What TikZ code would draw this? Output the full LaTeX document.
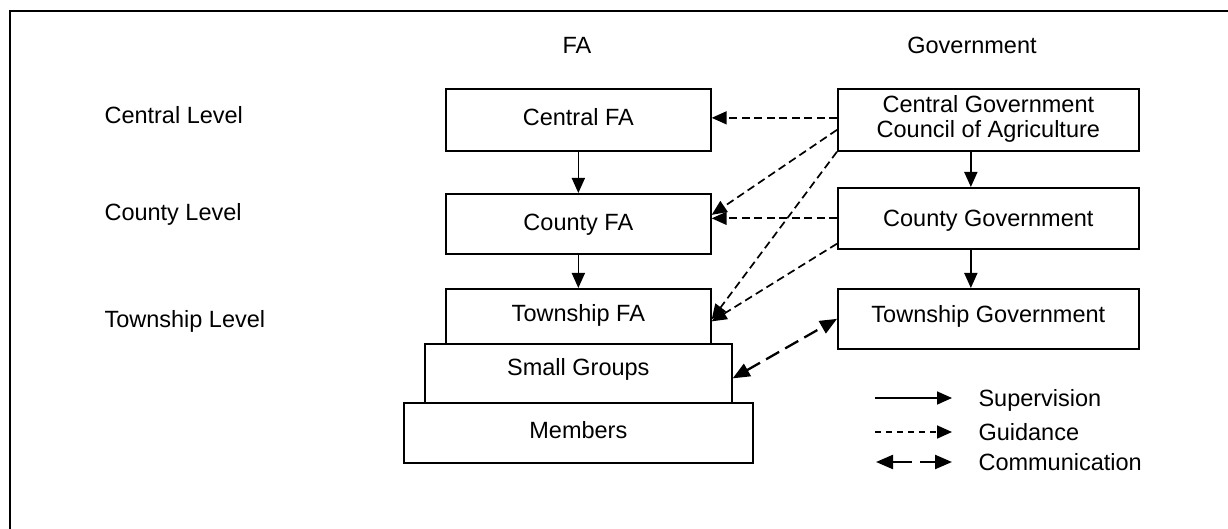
\documentclass[tikz,border=0pt]{standalone}
\usepackage{fontspec}
\setmainfont{Liberation Sans}
\usetikzlibrary{arrows.meta,calc}
\begin{document}
\begin{tikzpicture}[x=1pt,y=-1pt,
  font=\fontsize{23.5}{25}\selectfont,
  box/.style n args={3}{draw, line width=1.7pt, anchor=north west,
    inner ysep=0pt, inner xsep=0pt, minimum width=#1,
    text height=#2, text depth=#3, align=center},
  tip/.style={-{Triangle[length=15pt,width=13pt]}},
  sup/.style={line width=1.7pt, tip},
  guide/.style={line width=1.7pt, dash pattern=on 8pt off 4.5pt, tip},
  commtip/.style={line width=2.3pt, -{Triangle[length=17pt,width=14pt]}},
  comm/.style={line width=2.3pt, dash pattern=on 15pt off 7pt,
    {Triangle[length=17pt,width=14pt]}-{Triangle[length=17pt,width=14pt]}},
  lbl/.style={anchor=base west},
  head/.style={anchor=base}]
\useasboundingbox (0,0) rectangle (1228,529);

% outer frame (only left and top edges fall inside the page)
\draw[line width=2.5pt] (10,545) -- (10,11) -- (1245,11);

% column headings
\node[head] (hfa) at (577,54) {FA};
\node[head] (hgov) at (972,54) {Government};

% level labels
\node[lbl] (lvc)  at (101,124) {Central Level};
\node[lbl] (lvco) at (101,221) {County Level};
\node[lbl] (lvt)  at (101,327) {Township Level};

% farmers' association column
\node[box={265pt}{37pt}{25pt}] (cfa)  at (445,88)  {Central FA};
\node[box={265pt}{37pt}{23pt}] (cofa) at (445,193) {County FA};
\node[box={265pt}{33pt}{22pt}] (tfa)  at (445,288) {Township FA};
\node[box={307pt}{32pt}{27pt}] (sg)   at (424,343) {Small Groups};
\node[box={349pt}{36pt}{24pt}] (mem)  at (403,402) {Members};

% government column (the text height of a two-line box counts to its last baseline)
\node[box={301pt}{49pt}{13pt}] (cg)  at (837,88)  {Central Government\\Council of Agriculture};
\node[box={301pt}{39pt}{22pt}] (cog) at (837,187) {County Government};
\node[box={301pt}{34pt}{26pt}] (tg)  at (837,288) {Township Government};

% supervision
\draw[sup] (cfa.south) -- (cofa.north);
\draw[sup] (cofa.south) -- (tfa.north);
\draw[sup] ([xshift=-17.5pt]cg.south) -- ([xshift=-17.5pt]cog.north);
\draw[sup] ([xshift=-17.5pt]cog.south) -- ([xshift=-17.5pt]tg.north);

% guidance
\draw[guide] ([yshift=2pt]cg.west) -- ([yshift=2pt]cfa.east);
\draw[guide] ([yshift=-10pt]cg.west) -- ([yshift=9pt]cofa.east);
\draw[guide] (cg.south west) -- ([yshift=-3pt]tfa.east);
\draw[guide] (cog.west) -- (cog.west -| cofa.east);
\draw[guide] ([yshift=6pt]cog.south west) -- ([yshift=-5pt]tfa.east);

% communication
\draw[comm] ([yshift=-5pt]sg.east) -- (tg.west);

% legend
\coordinate (s1) at (875,398);
\coordinate (s2) at (952,398);
\draw[sup] (s1) -- (s2);
\node[lbl] (ls) at (975,406) {Supervision};

\coordinate (g1) at (875,432);
\coordinate (g2) at (952,432);
\draw[guide, dash pattern=on 6pt off 5pt] (g1) -- (g2);
\node[lbl] (lg) at (975,440) {Guidance};

\coordinate (c1) at (876,462);
\coordinate (c2) at (912,462);
\coordinate (c3) at (920,462);
\coordinate (c4) at (952,462);
\draw[commtip] (c2) -- (c1);
\draw[commtip] (c3) -- (c4);
\node[lbl] (lc) at (975,470) {Communication};
\end{tikzpicture}
\end{document}
